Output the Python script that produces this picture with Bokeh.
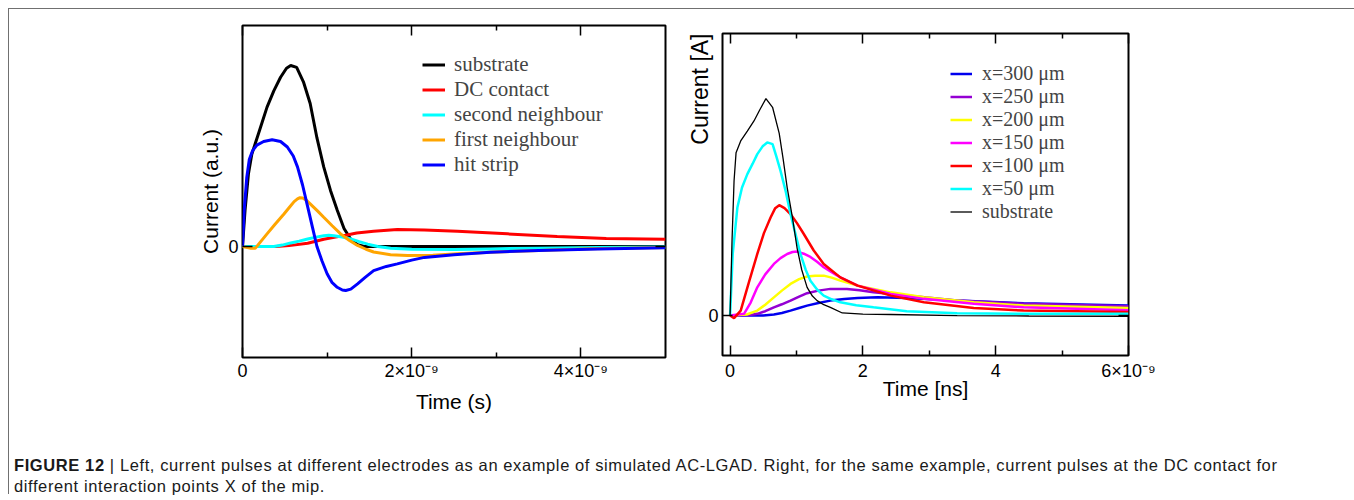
from bokeh.plotting import figure
from bokeh.models import (LinearAxis, FixedTicker, Range1d, Legend, LegendItem,
                          Div, Column, Row, Spacer, Title)
from bokeh.embed import file_html
from bokeh.resources import INLINE

# ---------------- data: left panel (time in ns, current in a.u.) ----------------
sub_t = [0, 0.03, 0.07, 0.11, 0.2, 0.29, 0.37, 0.45, 0.52, 0.57, 0.64, 0.72, 0.80,
         0.88, 0.96, 1.04, 1.12, 1.20, 1.28, 1.36, 1.44, 1.6, 2.0, 3.0, 4.0, 5.0]
sub_y = [0, 0.2, 0.4, 0.51, 0.64, 0.77, 0.86, 0.935, 0.985, 1.0, 0.99, 0.91, 0.79,
         0.60, 0.44, 0.31, 0.20, 0.10, 0.04, 0.01, 0.0, 0.0, 0.0, 0.0, 0.0, 0.0]

dc_t = [0, 0.4, 0.55, 0.77, 0.96, 1.1, 1.22, 1.35, 1.55, 1.83, 2.15, 2.54, 3.13,
        3.72, 4.3, 5.0]
dc_y = [0, 0, 0.005, 0.018, 0.04, 0.052, 0.062, 0.075, 0.085, 0.094, 0.092, 0.085,
        0.07, 0.055, 0.045, 0.04]

sn_t = [0, 0.37, 0.47, 0.57, 0.67, 0.77, 0.87, 0.96, 1.02, 1.08, 1.18, 1.28, 1.38,
        1.48, 1.6, 1.75, 2.0, 2.5, 2.93, 3.5, 4.2, 5.0]
sn_y = [0, 0, 0.008, 0.02, 0.03, 0.042, 0.052, 0.06, 0.062, 0.06, 0.053, 0.042,
        0.027, 0.013, 0.0, -0.009, -0.015, -0.017, -0.013, -0.009, -0.005, -0.002]

fn_t = [0, 0.1, 0.15, 0.22, 0.29, 0.38, 0.49, 0.56, 0.61, 0.65, 0.68, 0.71, 0.75,
        0.80, 0.88, 0.96, 1.06, 1.16, 1.26, 1.36, 1.46, 1.55, 1.75, 1.95, 2.25, 2.54,
        3.0, 3.5, 4.1, 5.0]
fn_y = [0, -0.01, -0.01, 0.03, 0.07, 0.12, 0.18, 0.22, 0.248, 0.263, 0.27, 0.268,
        0.258, 0.236, 0.20, 0.162, 0.115, 0.07, 0.035, 0.006, -0.015, -0.03, -0.045,
        -0.05, -0.048, -0.04, -0.03, -0.022, -0.012, -0.005]

hs_t = [0, 0.02, 0.05, 0.08, 0.12, 0.17, 0.25, 0.35, 0.45, 0.53, 0.60, 0.65, 0.71,
        0.77, 0.83, 0.88, 0.94, 1.0, 1.06, 1.12, 1.18, 1.22, 1.28, 1.36, 1.45, 1.55,
        1.7, 1.83, 2.0, 2.15, 2.5, 2.93, 3.5, 4.2, 5.0]
hs_y = [0, 0.2, 0.38, 0.48, 0.53, 0.56, 0.58, 0.59, 0.58, 0.55, 0.50, 0.44, 0.34,
        0.22, 0.10, 0.0, -0.08, -0.15, -0.2, -0.225, -0.24, -0.243, -0.235, -0.206,
        -0.17, -0.133, -0.11, -0.096, -0.075, -0.06, -0.045, -0.031, -0.022, -0.014,
        -0.007]

left_names = ["substrate", "DC contact", "second neighbour", "first neighbour", "hit strip"]
left_colors = ["#000000", "#ff0000", "#00ffff", "#ffa500", "#0000ff"]
left_series = [(sub_t, sub_y), (dc_t, dc_y), (sn_t, sn_y), (fn_t, fn_y), (hs_t, hs_y)]
left_ticks = [0, 2, 4]
left_minor = [1, 3]
left_tick_labels = ["0", "2×10⁻⁹", "4×10⁻⁹"]

# ---------------- data: right panel (time in ns, current in arb. units) ----------------
r300_t = [0, 0.5, 0.66, 0.78, 0.91, 1.04, 1.16, 1.33, 1.51, 1.72, 1.92, 2.22, 2.66,
          3.42, 4.42, 6.0]
r300_y = [0, 0.0, 0.005, 0.012, 0.023, 0.035, 0.046, 0.058, 0.069, 0.076, 0.081,
          0.084, 0.081, 0.069, 0.057, 0.046]

r250_t = [0, 0.3, 0.41, 0.53, 0.66, 0.78, 0.91, 1.04, 1.16, 1.33, 1.51, 1.76, 1.95,
          2.16, 2.66, 3.42, 4.42, 6.0]
r250_y = [0, 0.003, 0.008, 0.02, 0.038, 0.052, 0.069, 0.087, 0.103, 0.115, 0.123,
          0.123, 0.117, 0.107, 0.092, 0.069, 0.054, 0.043]

r200_t = [0, 0.25, 0.41, 0.53, 0.66, 0.78, 0.91, 1.04, 1.16, 1.28, 1.41, 1.53, 1.66,
          1.92, 2.42, 2.92, 3.67, 4.42, 6.0]
r200_y = [0, 0.005, 0.023, 0.05, 0.084, 0.115, 0.146, 0.168, 0.18, 0.184, 0.184,
          0.175, 0.161, 0.138, 0.107, 0.084, 0.061, 0.046, 0.035]

r150_t = [0, 0.21, 0.31, 0.41, 0.53, 0.66, 0.76, 0.86, 0.94, 1.01, 1.11, 1.21, 1.31,
          1.41, 1.53, 1.66, 1.92, 2.42, 2.92, 3.67, 4.42, 6.0]
r150_y = [0, 0.008, 0.06, 0.13, 0.19, 0.238, 0.265, 0.284, 0.293, 0.295, 0.285, 0.27,
          0.248, 0.223, 0.2, 0.176, 0.138, 0.1, 0.077, 0.054, 0.038, 0.025]

r100_t = [0, 0.06, 0.16, 0.28, 0.41, 0.51, 0.61, 0.68, 0.74, 0.82, 0.91, 1.01, 1.11,
          1.26, 1.41, 1.66, 1.92, 2.42, 2.92, 3.67, 4.42, 6.0]
r100_y = [0, -0.012, 0.023, 0.15, 0.284, 0.38, 0.452, 0.495, 0.509, 0.495, 0.468,
          0.425, 0.376, 0.30, 0.238, 0.176, 0.138, 0.092, 0.061, 0.035, 0.023, 0.016]

r50_t = [0, 0.04, 0.11, 0.18, 0.26, 0.34, 0.41, 0.49, 0.56, 0.64, 0.70, 0.76, 0.84,
         0.91, 0.99, 1.06, 1.14, 1.21, 1.31, 1.41, 1.53, 1.66, 1.9, 2.16, 2.66, 3.42,
         4.42, 6.0]
r50_y = [0, 0.284, 0.498, 0.59, 0.652, 0.70, 0.744, 0.78, 0.798, 0.79, 0.73, 0.667,
         0.57, 0.468, 0.37, 0.284, 0.21, 0.161, 0.12, 0.092, 0.075, 0.061, 0.048,
         0.038, 0.02, 0.011, 0.008, 0.008]

rsub_t = [0, 0.03, 0.06, 0.09, 0.16, 0.26, 0.36, 0.45, 0.54, 0.64, 0.74, 0.80, 0.86,
          0.94, 1.01, 1.08, 1.16, 1.24, 1.31, 1.41, 1.51, 1.69, 2.0, 2.42, 3.42, 4.5, 6.0]
rsub_y = [0, 0.35, 0.62, 0.75, 0.805, 0.85, 0.897, 0.95, 1.0, 0.96, 0.84, 0.72, 0.59,
          0.45, 0.31, 0.21, 0.13, 0.09, 0.069, 0.05, 0.038, 0.012, 0.007, 0.005, 0.0,
          -0.002, -0.003]

right_names = ["x=300 μm", "x=250 μm", "x=200 μm", "x=150 μm", "x=100 μm", "x=50 μm", "substrate"]
right_colors = ["#0000ee", "#9400d3", "#ffff00", "#ff00ff", "#ff0000", "#00ffff", "#000000"]
right_widths = [2.5, 2.5, 2.5, 2.5, 2.5, 2.5, 1.3]
right_series = [(r300_t, r300_y), (r250_t, r250_y), (r200_t, r200_y), (r150_t, r150_y),
                (r100_t, r100_y), (r50_t, r50_y), (rsub_t, rsub_y)]
right_ticks = [0, 2, 4, 6]
right_minor = [1, 3, 5]
right_tick_labels = ["0", "2", "4", "6×10⁻⁹"]

SANS = "Liberation Sans"
SERIF = "Liberation Serif"


def style_x(ax, ticks, minor, labels, show_labels=True):
    ax.ticker = FixedTicker(ticks=ticks, minor_ticks=minor)
    if show_labels:
        ax.major_label_overrides = {t: l for t, l in zip(ticks, labels)}
        ax.major_label_text_font_size = "18px"
    else:
        ax.major_label_overrides = {t: "" for t in ticks}
        ax.major_label_text_font_size = "1px"
        ax.major_label_standoff = 0
    ax.axis_line_color = None
    ax.major_tick_in = 10
    ax.major_tick_out = 0
    ax.minor_tick_in = 5
    ax.minor_tick_out = 0
    ax.major_tick_line_width = 1.5
    ax.minor_tick_line_width = 1.5
    ax.major_tick_line_color = "black"
    ax.minor_tick_line_color = "black"
    ax.major_label_text_font = SANS
    ax.major_label_text_color = "black"
    ax.axis_label_text_font = SANS
    ax.axis_label_text_font_style = "normal"
    ax.axis_label_text_font_size = "21px"
    ax.axis_label_text_color = "black"


def style_y(ax, show_labels=True):
    ax.ticker = FixedTicker(ticks=[0], minor_ticks=[])
    if show_labels:
        ax.major_label_overrides = {0: "0"}
        ax.major_label_text_font_size = "18px"
        ax.major_label_standoff = 4
    else:
        ax.major_label_overrides = {0: ""}
        ax.major_label_text_font_size = "1px"
        ax.major_label_standoff = 0
    ax.axis_line_color = None
    ax.major_tick_in = 10
    ax.major_tick_out = 0
    ax.minor_tick_in = 0
    ax.minor_tick_out = 0
    ax.major_tick_line_width = 1.5
    ax.major_tick_line_color = "black"
    ax.major_label_text_font = SANS
    ax.major_label_text_color = "black"
    ax.axis_label_text_font = SANS
    ax.axis_label_text_font_style = "normal"
    ax.axis_label_text_font_size = "21px"
    ax.axis_label_text_color = "black"


def make_fig(fw, fh, bl, br, bt, bb, xr, yr):
    p = figure(width=bl + fw + br, height=bt + fh + bb, frame_width=fw, frame_height=fh,
               min_border_left=bl, min_border_right=br, min_border_top=bt,
               min_border_bottom=bb, x_range=Range1d(*xr), y_range=Range1d(*yr),
               output_backend="svg", toolbar_location=None, tools="")
    p.xgrid.visible = False
    p.ygrid.visible = False
    p.outline_line_color = "black"
    p.outline_line_width = 2
    p.background_fill_color = "white"
    p.border_fill_color = "white"
    return p


# ---------------- left panel ----------------
p1 = make_fig(423, 332, 233, 21, 16, 72, (0, 5.0), (-0.613, 1.221))
style_x(p1.xaxis[0], left_ticks, left_minor, left_tick_labels)
p1.xaxis[0].axis_label = "Time (s)"
p1.xaxis[0].major_label_standoff = 3
p1.xaxis[0].axis_label_standoff = 6
top1 = LinearAxis()
style_x(top1, left_ticks, left_minor, left_tick_labels, show_labels=False)
p1.add_layout(top1, "above")
style_y(p1.yaxis[0])
p1.yaxis[0].axis_label = "Current (a.u.)"
p1.yaxis[0].axis_label_standoff = 3
right1 = LinearAxis()
style_y(right1, show_labels=False)
p1.add_layout(right1, "right")

items1 = []
for name, col, (t, y) in zip(left_names, left_colors, left_series):
    r = p1.line(t, y, line_color=col, line_width=3)
    items1.append(LegendItem(label=name, renderers=[r]))
leg1 = Legend(items=items1, location=(180, 180), padding=0, margin=0, spacing=0,
              glyph_width=23, glyph_height=23, label_height=23, label_standoff=9,
              label_text_font=SERIF, label_text_font_size="21px",
              border_line_color=None, background_fill_alpha=0)
p1.add_layout(leg1)

# ---------------- right panel ----------------
p2 = make_fig(406, 322, 36, 224, 16, 74, (-0.114, 6.0), (-0.184, 1.30))
style_x(p2.xaxis[0], right_ticks, right_minor, right_tick_labels)
p2.xaxis[0].axis_label = "Time [ns]"
p2.xaxis[0].major_label_standoff = 5
p2.xaxis[0].axis_label_standoff = -7
top2 = LinearAxis()
style_x(top2, right_ticks, right_minor, right_tick_labels, show_labels=False)
p2.add_layout(top2, "above")
style_y(p2.yaxis[0])
right2 = LinearAxis()
style_y(right2, show_labels=False)
p2.add_layout(right2, "right")
ytitle2 = Title(text="Current [A]", align="right", text_font=SANS,
                text_font_size="23px", text_font_style="normal", text_color="black",
                standoff=-15, offset=0)
p2.add_layout(ytitle2, "left")

items2 = []
for name, col, w, (t, y) in zip(right_names, right_colors, right_widths, right_series):
    r = p2.line(t, y, line_color=col, line_width=w)
    items2.append(LegendItem(label=name, renderers=[r]))
leg2 = Legend(items=items2, location=(228, 132), padding=0, margin=0, spacing=0,
              glyph_width=22, glyph_height=23, label_height=23, label_standoff=10,
              label_text_font=SERIF, label_text_font_size="20px",
              border_line_color=None, background_fill_alpha=0)
p2.add_layout(leg2)

# ---------------- caption ----------------
caption_html = (
    '<div style="font-family:\'Liberation Sans\',Arial,sans-serif;font-size:16.5px;'
    'letter-spacing:0.6px;line-height:21px;color:#1a1a1a;white-space:nowrap;'
    'padding:21px 0 0 0;">'
    '<b>FIGURE 12</b> | Left, current pulses at different electrodes as an example of '
    'simulated AC-LGAD. Right, for the same example, current pulses at the DC contact for'
    '<br>different interaction points X of the mip.</div>'
)
cap = Div(text=caption_html, width=1343, height=55)

right_col = Column(children=[Spacer(width=666, height=8), p2])
layout = Column(children=[Row(children=[p1, right_col]), cap],
                styles={"margin": "8px 0 0 8px",
                        "border-top": "1px solid #707070",
                        "border-left": "1px solid #707070",
                        "border-right": "1px solid #707070"})

open("out.html", "w").write(file_html(layout, INLINE))
